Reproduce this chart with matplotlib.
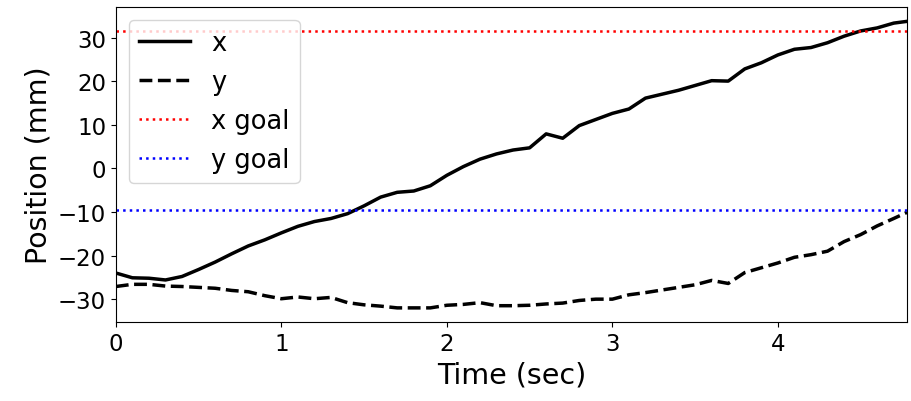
import numpy as np
import matplotlib

matplotlib.use('Agg')
import matplotlib.pyplot as plt

# time samples (sec)
t = [0.0, 0.1, 0.2, 0.3, 0.4, 0.5, 0.6, 0.7, 0.8, 0.9,
     1.0, 1.1, 1.2, 1.3, 1.4, 1.5, 1.6, 1.7, 1.8, 1.9,
     2.0, 2.1, 2.2, 2.3, 2.4, 2.5, 2.6, 2.7, 2.8, 2.9,
     3.0, 3.1, 3.2, 3.3, 3.4, 3.5, 3.6, 3.7, 3.8, 3.9,
     4.0, 4.1, 4.2, 4.3, 4.4, 4.5, 4.6, 4.7, 4.78]

x_pos = [-24.0, -25.1, -25.2, -25.6, -24.8, -23.2, -21.5, -19.6, -17.8, -16.4,
         -14.8, -13.3, -12.2, -11.5, -10.4, -8.6, -6.6, -5.5, -5.2, -4.0,
         -1.6, 0.4, 2.1, 3.3, 4.2, 4.7, 7.9, 6.9, 9.8, 11.2,
         12.6, 13.6, 16.1, 17.0, 17.9, 19.0, 20.1, 20.0, 22.8, 24.2,
         26.0, 27.3, 27.7, 28.8, 30.3, 31.5, 32.2, 33.3, 33.7]

y_pos = [-27.1, -26.6, -26.6, -27.0, -27.1, -27.3, -27.5, -28.0, -28.3, -29.2,
         -29.9, -29.5, -29.9, -29.6, -30.8, -31.3, -31.6, -32.0, -32.0, -32.0,
         -31.4, -31.2, -30.8, -31.5, -31.5, -31.4, -31.1, -30.9, -30.3, -30.0,
         -30.0, -29.0, -28.5, -27.9, -27.3, -26.7, -25.7, -26.4, -23.9, -22.8,
         -21.7, -20.4, -19.8, -19.0, -16.8, -15.2, -13.2, -11.5, -10.1]

x_goal = 31.6
y_goal = -9.6

fig, ax = plt.subplots(figsize=(9.12, 4.02), dpi=100)
fig.subplots_adjust(left=0.127, right=0.9945, top=0.98, bottom=0.196)

ax.plot(t, x_pos, 'k-', lw=2.5, label='x')
ax.plot(t, y_pos, 'k--', lw=2.5, label='y')
ax.axhline(x_goal, color='red', ls=':', lw=1.8, label='x goal')
ax.axhline(y_goal, color='blue', ls=':', lw=1.8, label='y goal')

ax.set_xlim(0, t[-1])
ax.set_xticks([0, 1, 2, 3, 4])
ax.set_yticks([-30, -20, -10, 0, 10, 20, 30])
ax.tick_params(labelsize=16.5)
ax.set_xlabel('Time (sec)', fontsize=20.5)
ax.set_ylabel('Position (mm)', fontsize=20.5)
ax.legend(loc='upper left', fontsize=18.5)

plt.savefig('out.png')
